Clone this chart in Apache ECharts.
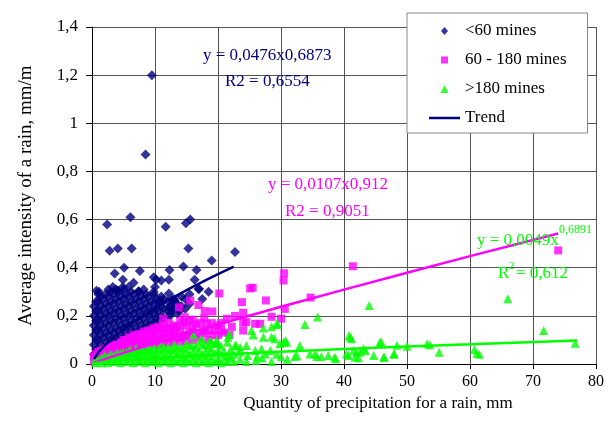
<!DOCTYPE html>
<html>
<head>
<meta charset="utf-8">
<script src="https://cdn.jsdelivr.net/npm/echarts@6/dist/echarts.min.js"></script>
<style>
  html, body { margin: 0; padding: 0; background: #fff; }
  #chart { width: 608px; height: 434px; }
</style>
</head>
<body>
<div id="chart"></div>
<script>
// ---- data: [precipitation mm, intensity mm/m] ----
const navyPoints = [
  [9.5, 1.2], [8.5, 0.87],
  [2.4, 0.58], [6.1, 0.61], [11.7, 0.57], [14.9, 0.585], [15.6, 0.6],
  [2.8, 0.47], [4.1, 0.48], [6.3, 0.48], [15.3, 0.48], [22.7, 0.465], [19.0, 0.43],
  [5.1, 0.4], [7.6, 0.386], [12.3, 0.39], [14.5, 0.405], [16.6, 0.39],
  [3.6, 0.376], [9.8, 0.36], [10.2, 0.35], [12.2, 0.35], [16.3, 0.35], [4.9, 0.35], [6.6, 0.338],
  [3.3, 0.32], [0.7, 0.304], [1.1, 0.3], [7.4, 0.302], [9.8, 0.3], [16.9, 0.312], [12.2, 0.293],
  [10.0, 0.32], [12.4, 0.236], [11.0, 0.347], [12.7, 0.267], [13.1, 0.257], [12.6, 0.226],
  [4.1, 0.305], [4.9, 0.32], [17.0, 0.312], [10.8, 0.264], [13.1, 0.264], [13.9, 0.22], [12.4, 0.21],
  // dense cluster
  [0.3, 0.04], [0.3, 0.08], [0.3, 0.12], [0.3, 0.16], [0.3, 0.2], [0.3, 0.24],
  [1.0, 0.06], [1.0, 0.1], [1.0, 0.14], [1.0, 0.18], [1.0, 0.22], [1.0, 0.26], [1.0, 0.29],
  [1.8, 0.07], [1.8, 0.11], [1.8, 0.15], [1.8, 0.19], [1.8, 0.23], [1.8, 0.27],
  [2.6, 0.08], [2.6, 0.12], [2.6, 0.16], [2.6, 0.2], [2.6, 0.24], [2.6, 0.28], [2.6, 0.31],
  [3.4, 0.09], [3.4, 0.13], [3.4, 0.17], [3.4, 0.21], [3.4, 0.25], [3.4, 0.29],
  [4.2, 0.1], [4.2, 0.14], [4.2, 0.18], [4.2, 0.22], [4.2, 0.26], [4.2, 0.3],
  [5.0, 0.11], [5.0, 0.15], [5.0, 0.19], [5.0, 0.23], [5.0, 0.27], [5.0, 0.31],
  [5.8, 0.12], [5.8, 0.16], [5.8, 0.2], [5.8, 0.24], [5.8, 0.28], [5.8, 0.32],
  [6.6, 0.13], [6.6, 0.17], [6.6, 0.21], [6.6, 0.25], [6.6, 0.29],
  [7.4, 0.14], [7.4, 0.18], [7.4, 0.22], [7.4, 0.26], [7.4, 0.3],
  [8.2, 0.15], [8.2, 0.19], [8.2, 0.23], [8.2, 0.27], [8.2, 0.31],
  [9.0, 0.16], [9.0, 0.2], [9.0, 0.24], [9.0, 0.28],
  [9.8, 0.17], [9.8, 0.21], [9.8, 0.25], [9.8, 0.29],
  [10.6, 0.18], [10.6, 0.22], [10.6, 0.26],
  [11.4, 0.19], [11.4, 0.23], [11.4, 0.27],
  [12.4, 0.2], [12.4, 0.24], [13.5, 0.21], [13.5, 0.25], [14.8, 0.23], [14.8, 0.27],
  [0.65, 0.06], [0.65, 0.1], [0.65, 0.14], [0.65, 0.18], [0.65, 0.22], [0.65, 0.26],
  [1.4, 0.08], [1.4, 0.12], [1.4, 0.16], [1.4, 0.2], [1.4, 0.24], [1.4, 0.28],
  [2.2, 0.09], [2.2, 0.13], [2.2, 0.17], [2.2, 0.21], [2.2, 0.25], [2.2, 0.29],
  [3.0, 0.1], [3.0, 0.14], [3.0, 0.18], [3.0, 0.22], [3.0, 0.26], [3.0, 0.3],
  [3.8, 0.11], [3.8, 0.15], [3.8, 0.19], [3.8, 0.23], [3.8, 0.27], [3.8, 0.31],
  [4.6, 0.12], [4.6, 0.16], [4.6, 0.2], [4.6, 0.24], [4.6, 0.28],
  [5.4, 0.13], [5.4, 0.17], [5.4, 0.21], [5.4, 0.25], [5.4, 0.29],
  [6.2, 0.14], [6.2, 0.18], [6.2, 0.22], [6.2, 0.26], [6.2, 0.3],
  [7.0, 0.15], [7.0, 0.19], [7.0, 0.23], [7.0, 0.27],
  [7.8, 0.16], [7.8, 0.2], [7.8, 0.24], [7.8, 0.28],
  [8.6, 0.17], [8.6, 0.21], [8.6, 0.25], [8.6, 0.29],
  [9.4, 0.18], [9.4, 0.22], [9.4, 0.26], [10.2, 0.19], [10.2, 0.23], [10.2, 0.27],
  [11.0, 0.2], [11.0, 0.24], [11.0, 0.28], [12.0, 0.22], [12.0, 0.26], [13.0, 0.23], [13.0, 0.27],
  [14.2, 0.24], [14.2, 0.28], [15.5, 0.25], [15.5, 0.29], [17.5, 0.27], [18.5, 0.3]
];

const magentaPoints = [
  [20.2, 0.293], [25.5, 0.317], [27.6, 0.264], [23.8, 0.257], [15.6, 0.264], [16.9, 0.245],
  [13.8, 0.235], [17.9, 0.22], [24.0, 0.213], [28.5, 0.196], [21.4, 0.188], [24.0, 0.172],
  [26.7, 0.167], [22.2, 0.154], [30.5, 0.377], [30.4, 0.347], [41.4, 0.406], [34.7, 0.276],
  [30.6, 0.229], [30.0, 0.188], [25.9, 0.167], [22.7, 0.2], [19.1, 0.218], [11.3, 0.188],
  [14.7, 0.195], [16.0, 0.184], [18.2, 0.167], [19.5, 0.139], [17.6, 0.139], [13.1, 0.139],
  [14.5, 0.111], [16.0, 0.132], [24.0, 0.139], [24.5, 0.174], [74.0, 0.472], [25.1, 0.314],
  // dense band
  [0.3, 0.01], [0.3, 0.03], [1.0, 0.02], [1.0, 0.05], [1.8, 0.03], [1.8, 0.06],
  [2.6, 0.035], [2.6, 0.07], [3.4, 0.04], [3.4, 0.075], [4.2, 0.045], [4.2, 0.08],
  [5.0, 0.05], [5.0, 0.085], [5.0, 0.1], [5.8, 0.055], [5.8, 0.09], [5.8, 0.11],
  [6.6, 0.06], [6.6, 0.095], [6.6, 0.12], [7.4, 0.065], [7.4, 0.1], [7.4, 0.125],
  [8.2, 0.07], [8.2, 0.105], [8.2, 0.135], [9.0, 0.075], [9.0, 0.11], [9.0, 0.14],
  [9.8, 0.08], [9.8, 0.115], [9.8, 0.15], [10.6, 0.08], [10.6, 0.12], [10.6, 0.155],
  [11.4, 0.085], [11.4, 0.125], [11.4, 0.16], [12.2, 0.085], [12.2, 0.13], [12.2, 0.17],
  [13.0, 0.09], [13.0, 0.125], [13.0, 0.16], [14.0, 0.09], [14.0, 0.14], [14.0, 0.18],
  [15.0, 0.095], [15.0, 0.12], [15.0, 0.16], [16.0, 0.1], [16.0, 0.15],
  [17.2, 0.11], [17.2, 0.17], [18.5, 0.1], [18.5, 0.14], [20.0, 0.12], [20.0, 0.16], [21.0, 0.13],
  [0.65, 0.02], [0.65, 0.04], [1.4, 0.03], [1.4, 0.055], [2.2, 0.04], [2.2, 0.065],
  [3.0, 0.05], [3.0, 0.07], [3.8, 0.055], [3.8, 0.08], [4.6, 0.065], [4.6, 0.09],
  [5.4, 0.07], [5.4, 0.1], [6.2, 0.075], [6.2, 0.11], [7.0, 0.08], [7.0, 0.115],
  [7.8, 0.085], [7.8, 0.12], [8.6, 0.09], [8.6, 0.125], [9.4, 0.095], [9.4, 0.13],
  [10.2, 0.1], [10.2, 0.14], [11.0, 0.105], [11.0, 0.145], [11.8, 0.11], [11.8, 0.15],
  [12.6, 0.11], [12.6, 0.145], [13.5, 0.11], [13.5, 0.155], [14.5, 0.12], [14.5, 0.17],
  [15.5, 0.13], [15.5, 0.18], [16.5, 0.12], [16.5, 0.165], [17.8, 0.13], [17.8, 0.19],
  [19.0, 0.12], [19.0, 0.17], [20.5, 0.14], [20.5, 0.17], [21.8, 0.12]
];

const greenPoints = [
  [44.0, 0.243], [35.8, 0.195], [33.8, 0.164], [40.8, 0.118], [45.7, 0.09], [29.5, 0.164],
  [28.5, 0.155], [25.3, 0.139], [25.6, 0.12], [21.8, 0.125], [27.2, 0.111], [28.5, 0.112],
  [30.9, 0.09], [32.5, 0.035], [34.6, 0.042], [35.7, 0.031], [37.5, 0.035], [38.7, 0.022],
  [40.4, 0.042], [41.5, 0.056], [42.6, 0.05], [43.1, 0.064], [44.7, 0.035], [46.3, 0.028],
  [47.9, 0.042], [48.4, 0.078], [22.7, 0.077], [23.5, 0.07], [30.4, 0.09], [66.0, 0.271],
  [71.7, 0.139], [76.7, 0.086], [46.4, 0.028], [48.0, 0.042], [50.0, 0.074], [53.2, 0.084],
  [53.6, 0.08], [55.1, 0.049], [60.7, 0.06], [61.5, 0.04], [61.1, 0.045], [41.2, 0.105],
  [45.9, 0.092], [42.0, 0.049], [43.4, 0.056], [41.8, 0.028], [42.3, 0.026], [33.0, 0.077],
  [32.2, 0.031], [35.4, 0.042], [36.4, 0.031], [38.5, 0.028], [40.7, 0.035], [41.0, 0.111],
  [24.5, 0.077], [25.9, 0.056], [26.9, 0.063], [27.5, 0.042], [28.3, 0.056], [24.7, 0.035],
  [26.2, 0.03], [29.3, 0.04], [30.0, 0.03], [30.7, 0.098], [29.8, 0.084], [29.0, 0.105],
  [17.4, 0.105], [19.8, 0.098], [16.1, 0.123], [27.2, 0.15], [29.3, 0.167], [21.6, 0.111],
  [22.9, 0.077], [18.7, 0.098],
  // dense band
  [0.5, 0.005], [0.5, 0.02], [1.5, 0.005], [1.5, 0.025], [2.5, 0.005], [2.5, 0.03],
  [3.5, 0.01], [3.5, 0.035], [4.5, 0.005], [4.5, 0.03], [4.5, 0.045], [5.5, 0.01], [5.5, 0.035], [5.5, 0.05],
  [6.5, 0.005], [6.5, 0.03], [6.5, 0.05], [7.5, 0.01], [7.5, 0.035], [7.5, 0.055],
  [8.5, 0.005], [8.5, 0.03], [8.5, 0.055], [9.5, 0.01], [9.5, 0.035], [9.5, 0.06],
  [10.5, 0.005], [10.5, 0.03], [10.5, 0.06], [11.5, 0.01], [11.5, 0.035], [11.5, 0.065],
  [12.5, 0.005], [12.5, 0.03], [12.5, 0.06], [13.5, 0.01], [13.5, 0.04], [13.5, 0.07],
  [14.5, 0.005], [14.5, 0.03], [14.5, 0.065], [15.5, 0.01], [15.5, 0.04], [15.5, 0.075],
  [16.5, 0.005], [16.5, 0.035], [16.5, 0.07], [17.5, 0.01], [17.5, 0.04], [17.5, 0.08],
  [18.5, 0.005], [18.5, 0.035], [18.5, 0.07], [19.5, 0.01], [19.5, 0.045], [19.5, 0.085],
  [20.5, 0.005], [20.5, 0.04], [20.5, 0.075], [21.5, 0.01], [21.5, 0.035], [21.5, 0.09],
  [22.5, 0.01], [22.5, 0.04], [23.5, 0.02], [23.5, 0.05], [24.5, 0.01], [26.0, 0.015],
  [27.0, 0.025], [28.5, 0.01], [31.0, 0.02],
  [1.0, 0.015], [2.0, 0.018], [2.0, 0.035], [3.0, 0.02], [3.0, 0.04], [4.0, 0.02], [4.0, 0.045],
  [5.0, 0.02], [5.0, 0.05], [6.0, 0.02], [6.0, 0.045], [6.0, 0.06], [7.0, 0.02], [7.0, 0.045], [7.0, 0.065],
  [8.0, 0.02], [8.0, 0.045], [8.0, 0.06], [9.0, 0.02], [9.0, 0.05], [9.0, 0.07],
  [10.0, 0.02], [10.0, 0.045], [10.0, 0.065], [11.0, 0.02], [11.0, 0.05], [11.0, 0.075],
  [12.0, 0.02], [12.0, 0.045], [12.0, 0.07], [13.0, 0.02], [13.0, 0.055], [13.0, 0.08],
  [14.0, 0.02], [14.0, 0.05], [14.0, 0.07], [15.0, 0.02], [15.0, 0.055], [15.0, 0.085],
  [16.0, 0.02], [16.0, 0.05], [16.0, 0.08], [17.0, 0.02], [17.0, 0.055], [17.0, 0.09],
  [18.0, 0.02], [18.0, 0.05], [18.0, 0.08], [19.0, 0.02], [19.0, 0.06], [19.0, 0.09],
  [20.0, 0.02], [20.0, 0.055], [20.0, 0.085], [21.0, 0.02], [21.0, 0.05], [22.0, 0.025], [22.0, 0.06]
];

// trend curves, values
const navyTrend = [[0.3, 0.021], [1, 0.048], [2, 0.077], [4, 0.123], [6, 0.163], [8, 0.199], [10, 0.232],
  [12, 0.263], [14, 0.292], [16, 0.32], [18, 0.347], [20, 0.373], [22.5, 0.405]];
const magentaTrend = [[0.3, 0.004], [1, 0.011], [2, 0.02], [5, 0.046], [10, 0.087], [20, 0.164],
  [30, 0.238], [40, 0.309], [50, 0.379], [60, 0.448], [74, 0.542]];
const greenTrend = [[0.3, 0.002], [1, 0.005], [5, 0.015], [10, 0.024], [20, 0.039], [30, 0.051],
  [40, 0.062], [50, 0.073], [60, 0.082], [77, 0.098]];

const seriesNames = ['<60 mines', '60 - 180 mines', '>180 mines', 'Trend'];

const NAVY = '#000080', MAGENTA = '#ff00ff', GREEN = '#00ff00';
const FONT = 'Liberation Serif';

// legend icons: tiny invisible dots at both ends keep the marker small inside a 31px slot
const ENDS = 'M0,4h0.01v0.01h-0.01zM31,4h-0.01v0.01h0.01z';
const ICON_DIAMOND = 'path://' + ENDS + 'M15.5,0L19,4L15.5,8L12,4z';
const ICON_RECT = 'path://' + ENDS + 'M12,0.5h7v7h-7z';
const ICON_TRI = 'path://' + ENDS + 'M15.5,0L19.5,8L11.5,8z';
const ICON_LINE = 'path://M0,2.75h31v2.5h-31zM0,0h0.01v0.01h-0.01zM0,8h0.01v-0.01h-0.01z';

const chart = echarts.init(document.getElementById('chart'));

chart.setOption({
  animation: false,
  textStyle: { fontFamily: FONT },
  grid: { left: 92, right: 12, top: 27, bottom: 70 },
  legend: {
    orient: 'vertical',
    left: 407, top: 13,
    padding: [8, 21, 5, 22],
    itemGap: 9,
    itemWidth: 31, itemHeight: 8,
    backgroundColor: '#fff',
    borderColor: '#888', borderWidth: 1,
    textStyle: { fontFamily: FONT, fontSize: 17, color: '#000', lineHeight: 20 },
    data: [
      { name: seriesNames[0], icon: ICON_DIAMOND },
      { name: seriesNames[1], icon: ICON_RECT },
      { name: seriesNames[2], icon: ICON_TRI },
      { name: seriesNames[3], icon: ICON_LINE }
    ]
  },
  xAxis: {
    type: 'value', min: 0, max: 80, interval: 10,
    name: 'Quantity of precipitation for a rain, mm',
    nameLocation: 'middle', nameGap: 28,
    nameTextStyle: { fontFamily: FONT, fontSize: 17, color: '#000', padding: [0, 0, 0, 68] },
    axisLine: { lineStyle: { color: '#000', width: 1 } },
    axisTick: { show: true, length: 5, lineStyle: { color: '#000' } },
    axisLabel: { fontFamily: FONT, fontSize: 16, color: '#000', margin: 10 },
    splitLine: { show: true, lineStyle: { color: '#555', width: 1 } }
  },
  yAxis: {
    type: 'value', min: 0, max: 1.4, interval: 0.2,
    name: 'Average intensity of a rain, mm/m',
    nameLocation: 'middle', nameGap: 56,
    nameTextStyle: { fontFamily: FONT, fontSize: 19, color: '#000' },
    axisLine: { show: true, lineStyle: { color: '#000', width: 1 } },
    axisTick: { show: true, length: 6, lineStyle: { color: '#000' } },
    axisLabel: {
      fontFamily: FONT, fontSize: 17, color: '#000', margin: 14,
      formatter: v => String(+v.toFixed(1)).replace('.', ',')
    },
    splitLine: { show: true, lineStyle: { color: '#555', width: 1 } }
  },
  series: [
    { name: seriesNames[0], type: 'scatter', symbol: 'diamond', symbolSize: 10,
      itemStyle: { color: NAVY }, data: navyPoints },
    { name: seriesNames[1], type: 'scatter', symbol: 'rect', symbolSize: 8,
      itemStyle: { color: MAGENTA }, data: magentaPoints },
    { name: seriesNames[2], type: 'scatter', symbol: 'triangle', symbolSize: 9,
      itemStyle: { color: GREEN }, data: greenPoints },
    { name: 'Trend', type: 'line', showSymbol: false, color: NAVY,
      itemStyle: { color: NAVY }, lineStyle: { color: NAVY, width: 2.5 }, data: navyTrend },
    { name: 'Trend 2', type: 'line', showSymbol: false, color: MAGENTA,
      lineStyle: { color: MAGENTA, width: 2.5 }, data: magentaTrend },
    { name: 'Trend 3', type: 'line', showSymbol: false, color: GREEN,
      lineStyle: { color: GREEN, width: 2.5 }, data: greenTrend }
  ],
  // regression labels
  graphic: [
    { type: 'text', left: 203, top: 47, z: 100,
      style: { text: 'y = 0,0476x0,6873', fill: NAVY, font: '17px "Liberation Serif"' } },
    { type: 'text', left: 225, top: 73, z: 100,
      style: { text: 'R2 = 0,6554', fill: NAVY, font: '17px "Liberation Serif"' } },
    { type: 'text', left: 268, top: 176, z: 100,
      style: { text: 'y = 0,0107x0,912', fill: MAGENTA, font: '17px "Liberation Serif"' } },
    { type: 'text', left: 285, top: 203, z: 100,
      style: { text: 'R2 = 0,9051', fill: MAGENTA, font: '17px "Liberation Serif"' } },
    { type: 'text', left: 477, top: 232, z: 100,
      style: { text: 'y = 0,0049x', fill: GREEN, font: '17px "Liberation Serif"' } },
    { type: 'text', left: 559, top: 224, z: 100,
      style: { text: '0,6891', fill: GREEN, font: '12px "Liberation Serif"' } },
    { type: 'text', left: 498, top: 265, z: 100,
      style: { text: 'R', fill: GREEN, font: '17px "Liberation Serif"' } },
    { type: 'text', left: 509, top: 261, z: 100,
      style: { text: '2', fill: GREEN, font: '11px "Liberation Serif"' } },
    { type: 'text', left: 516, top: 265, z: 100,
      style: { text: '= 0,612', fill: GREEN, font: '17px "Liberation Serif"' } }
  ]
});
</script>
</body>
</html>
